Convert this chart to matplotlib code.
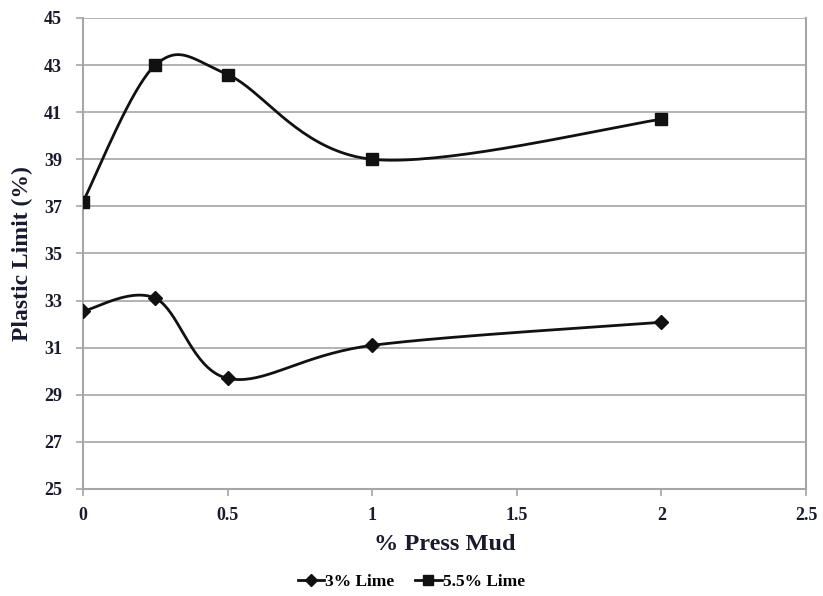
import numpy as np
import matplotlib
matplotlib.use("Agg")
import matplotlib.pyplot as plt
from matplotlib.lines import Line2D

press_mud = [0, 0.25, 0.5, 1, 2]
lime_3 = [32.55, 33.1, 29.7, 31.1, 32.08]
lime_55 = [37.2, 43.0, 42.6, 39.0, 40.7]
series_labels = ["3% Lime", "5.5% Lime"]
x_ticks = [0, 0.5, 1, 1.5, 2, 2.5]
x_tick_labels = ["0", "0.5", "1", "1.5", "2", "2.5"]
y_ticks = list(range(25, 46, 2))


def smooth(x, y, n=40):
    # Excel-style smoothed line: cubic Bezier with Catmull-Rom control points
    x = np.asarray(x, float)
    y = np.asarray(y, float)
    px, py = [], []
    m = len(x)
    for i in range(m - 1):
        x0, y0 = (x[i - 1], y[i - 1]) if i > 0 else (x[i], y[i])
        x1, y1 = x[i], y[i]
        x2, y2 = x[i + 1], y[i + 1]
        x3, y3 = (x[i + 2], y[i + 2]) if i + 2 < m else (x2, y2)
        c1x = x1 + (x2 - x0) / 6
        c1y = y1 + (y2 - y0) / 6
        c2x = x2 - (x3 - x1) / 6
        c2y = y2 - (y3 - y1) / 6
        t = np.linspace(0, 1, n)
        bx = (1 - t) ** 3 * x1 + 3 * (1 - t) ** 2 * t * c1x + 3 * (1 - t) * t ** 2 * c2x + t ** 3 * x2
        by = (1 - t) ** 3 * y1 + 3 * (1 - t) ** 2 * t * c1y + 3 * (1 - t) * t ** 2 * c2y + t ** 3 * y2
        px.extend(bx)
        py.extend(by)
    return np.array(px), np.array(py)


serif = ["Liberation Serif", "DejaVu Serif"]
plt.rcParams["font.family"] = serif
plt.rcParams["font.weight"] = "bold"

fig = plt.figure(figsize=(8.23, 5.96), dpi=100)
ax = fig.add_axes([83 / 823, 1 - 489 / 596, (806 - 83) / 823, (489 - 18) / 596])

grid_c = "#a6a6a6"
text_c = "#1a1a2e"
ax.set_xlim(0, 2.5)
ax.set_ylim(25, 45)
ax.set_yticks(y_ticks)
ax.set_xticks(x_ticks)
ax.set_xticklabels(x_tick_labels)
ax.yaxis.grid(True, color=grid_c, linewidth=1.2)
ax.set_axisbelow(True)
for s in ["left", "bottom", "right"]:
    ax.spines[s].set_color(grid_c)
    ax.spines[s].set_linewidth(1.5)
ax.spines["top"].set_visible(False)
ax.tick_params(axis="both", colors=grid_c, length=5, width=1.2, labelsize=13,
               labelcolor=text_c)
ax.tick_params(axis="y", pad=10)
ax.tick_params(axis="x", pad=8)
for lab in ax.get_xticklabels() + ax.get_yticklabels():
    lab.set_fontweight("bold")

sx, sy = smooth(press_mud, lime_3)
ax.plot(sx, sy, color="#111111", lw=2, zorder=3)
ax.plot(press_mud, lime_3, linestyle="none", marker="D", ms=7, color="#111111", zorder=4)

sx, sy = smooth(press_mud, lime_55)
ax.plot(sx, sy, color="#111111", lw=2, zorder=3)
ax.plot(press_mud, lime_55, linestyle="none", marker="s", ms=8, color="#111111", zorder=4)

ax.set_xlabel("% Press Mud", fontsize=17.5, fontweight="bold", labelpad=7, color=text_c)
ax.set_ylabel("Plastic Limit (%)", fontsize=17, fontweight="bold", labelpad=8, color=text_c)

handles = [
    Line2D([], [], color="#111111", lw=2, marker="D", ms=6),
    Line2D([], [], color="#111111", lw=2, marker="s", ms=7),
]
fig.legend(handles, series_labels, loc="center", bbox_to_anchor=(0.5, 1 - 582 / 596),
           ncol=2, frameon=False, handlelength=1.5, handletextpad=0.1,
           columnspacing=1.2, prop={"family": serif, "weight": "bold", "size": 12.5})

fig.savefig("out.png", dpi=100)
